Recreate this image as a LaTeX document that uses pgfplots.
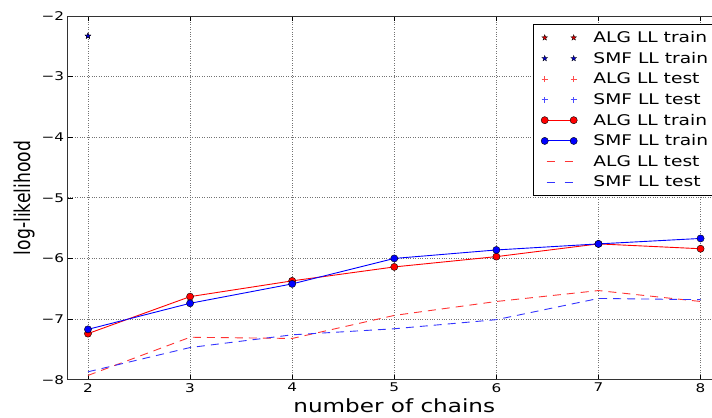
\documentclass[border=0pt]{standalone}
\usepackage{pgfplots}
\pgfplotsset{compat=1.18}
\usepackage{fontspec}
\setmainfont{DejaVu Sans}[FakeStretch=1.27]
\newfontfamily\ylabfont{DejaVu Sans}[FakeStretch=0.79]
\usetikzlibrary{plotmarks}

\pgfdeclareplotmark{fstar}{%
  \pgfpathmoveto{\pgfqpointpolar{90}{\pgfplotmarksize}}%
  \pgfpathlineto{\pgfqpointpolar{126}{0.4\pgfplotmarksize}}%
  \pgfpathlineto{\pgfqpointpolar{162}{\pgfplotmarksize}}%
  \pgfpathlineto{\pgfqpointpolar{198}{0.4\pgfplotmarksize}}%
  \pgfpathlineto{\pgfqpointpolar{234}{\pgfplotmarksize}}%
  \pgfpathlineto{\pgfqpointpolar{270}{0.4\pgfplotmarksize}}%
  \pgfpathlineto{\pgfqpointpolar{306}{\pgfplotmarksize}}%
  \pgfpathlineto{\pgfqpointpolar{342}{0.4\pgfplotmarksize}}%
  \pgfpathlineto{\pgfqpointpolar{18}{\pgfplotmarksize}}%
  \pgfpathlineto{\pgfqpointpolar{54}{0.4\pgfplotmarksize}}%
  \pgfpathclose
  \pgfusepathqfillstroke
}

\begin{document}
\begin{tikzpicture}
\begin{axis}[
  scale only axis, width=654pt, height=364pt,
  xmin=1.8, xmax=8.2, ymin=-8, ymax=-2,
  xtick={2,...,8}, xticklabels={2,3,4,5,6,7,8},
  ytick={-8,-7,-6,-5,-4,-3,-2}, yticklabels={−8,−7,−6,−5,−4,−3,−2},
  tick label style={font=\fontsize{12}{14}\selectfont},
  tick align=inside, major tick length=5pt,
  tick style={black, line width=0.6pt},
  grid=major, major grid style={dotted, black!55, line width=0.7pt},
  axis line style={line width=0.9pt, black!80},
  xlabel={number of chains},
  xlabel style={font=\fontsize{18.2}{22}\selectfont},
  ylabel={\ylabfont log-likelihood},
  ylabel style={font=\fontsize{21.8}{24}\selectfont},
  legend style={at={(0.7116,1)}, anchor=north west, yshift=-8pt,
    font=\fontsize{14.7}{17}\selectfont, draw=black, line width=0.8pt,
    inner xsep=8pt, inner ysep=5pt,
    row sep=4.1pt, cells={anchor=west},
    /tikz/every odd column/.append style={column sep=14pt}},
]
\coordinate (LL) at (rel axis cs:0,0);
\coordinate (UR) at (rel axis cs:1,1);

% data
\addplot[forget plot, only marks, mark=fstar, mark size=3pt, mark options={draw=black, fill=red!85!black, line width=0.3pt}] coordinates {(2,-2.33)};
\addplot[forget plot, only marks, mark=fstar, mark size=3pt, mark options={draw=black, fill=blue!85!black, line width=0.3pt}] coordinates {(2,-2.33)};
\addplot[forget plot, red, line width=0.9pt, mark=*, mark size=3.6pt, mark options={fill=red, draw=black, line width=0.4pt}] coordinates {
(2,-7.24) (3,-6.63) (4,-6.37) (5,-6.14) (6,-5.97) (7,-5.76) (8,-5.84)};
\addplot[forget plot, blue, line width=0.9pt, mark=*, mark size=3.6pt, mark options={fill=blue, draw=black, line width=0.4pt}] coordinates {
(2,-7.17) (3,-6.74) (4,-6.42) (5,-6.00) (6,-5.86) (7,-5.76) (8,-5.67)};
\addplot[forget plot, red!80, line width=0.9pt, dash pattern=on 8pt off 6pt] coordinates {
(2,-7.93) (3,-7.30) (4,-7.32) (5,-6.94) (6,-6.71) (7,-6.53) (8,-6.71)};
\addplot[forget plot, blue!80, line width=0.9pt, dash pattern=on 8pt off 6pt] coordinates {
(2,-7.87) (3,-7.47) (4,-7.26) (5,-7.16) (6,-7.01) (7,-6.66) (8,-6.68)};

% legend
\addlegendimage{legend image code/.code={%
  \fill[red!85!black, draw=black, line width=0.3pt] plot[mark=fstar, mark size=3pt, only marks] coordinates {(0pt,0pt)};
  \fill[red!85!black, draw=black, line width=0.3pt] plot[mark=fstar, mark size=3pt, only marks] coordinates {(29pt,0pt)};}}
\addlegendentry{ALG LL train}
\addlegendimage{legend image code/.code={%
  \fill[blue!85!black, draw=black, line width=0.3pt] plot[mark=fstar, mark size=3pt, only marks] coordinates {(0pt,0pt)};
  \fill[blue!85!black, draw=black, line width=0.3pt] plot[mark=fstar, mark size=3pt, only marks] coordinates {(29pt,0pt)};}}
\addlegendentry{SMF LL train}
\addlegendimage{legend image code/.code={%
  \draw[red!70, line width=0.8pt] (-3pt,0pt) -- (3pt,0pt) (0pt,-3pt) -- (0pt,3pt);
  \draw[red!70, line width=0.8pt] (26pt,0pt) -- (32pt,0pt) (29pt,-3pt) -- (29pt,3pt);}}
\addlegendentry{ALG LL test}
\addlegendimage{legend image code/.code={%
  \draw[blue!70, line width=0.8pt] (-3pt,0pt) -- (3pt,0pt) (0pt,-3pt) -- (0pt,3pt);
  \draw[blue!70, line width=0.8pt] (26pt,0pt) -- (32pt,0pt) (29pt,-3pt) -- (29pt,3pt);}}
\addlegendentry{SMF LL test}
\addlegendimage{legend image code/.code={%
  \draw[red, line width=0.9pt] (0pt,0pt) -- (29pt,0pt);
  \filldraw[fill=red, draw=black, line width=0.4pt] (0pt,0pt) circle[radius=3.6pt] (29pt,0pt) circle[radius=3.6pt];}}
\addlegendentry{ALG LL train}
\addlegendimage{legend image code/.code={%
  \draw[blue, line width=0.9pt] (0pt,0pt) -- (29pt,0pt);
  \filldraw[fill=blue, draw=black, line width=0.4pt] (0pt,0pt) circle[radius=3.6pt] (29pt,0pt) circle[radius=3.6pt];}}
\addlegendentry{SMF LL train}
\addlegendimage{legend image code/.code={%
  \draw[red!80, line width=0.9pt] (2pt,0pt) -- (10pt,0pt) (20pt,0pt) -- (28pt,0pt);}}
\addlegendentry{ALG LL test}
\addlegendimage{legend image code/.code={%
  \draw[blue!80, line width=0.9pt] (2pt,0pt) -- (10pt,0pt) (20pt,0pt) -- (28pt,0pt);}}
\addlegendentry{SMF LL test}
\end{axis}
\pgfresetboundingbox
\path ([shift={(-67.6pt,-38pt)}]LL) rectangle ([shift={(-9pt,16pt)}]UR);
\end{tikzpicture}
\end{document}
